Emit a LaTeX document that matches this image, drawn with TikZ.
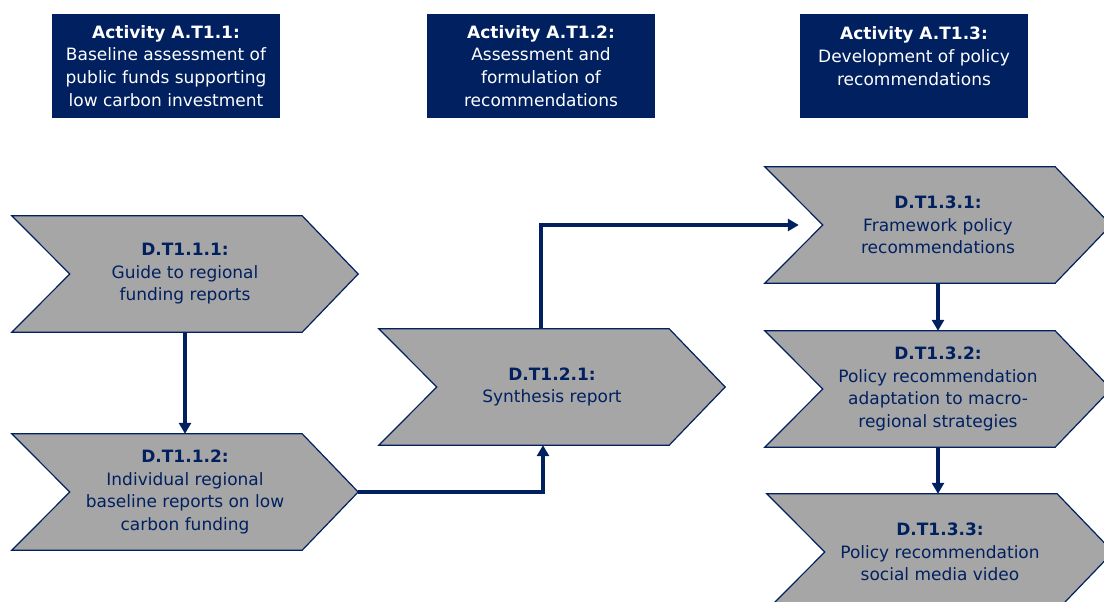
\documentclass[tikz,border=0pt]{standalone}
\usepackage{fontspec}
\setmainfont{DejaVu Sans}
\usetikzlibrary{arrows.meta, calc, positioning}
\pgfdeclarelayer{background}
\pgfsetlayers{background,main}
\definecolor{navy}{HTML}{002060}
\definecolor{chevgray}{HTML}{A6A6A6}

\begin{document}
\begin{tikzpicture}[x=1pt, y=-1pt,
    activity/.style={fill=navy, text=white, align=center, inner sep=0pt,
        minimum width=228pt, minimum height=104pt, font=\fontsize{17}{22.7}\selectfont},
    deliv/.style={align=center, text=navy, inner sep=0pt,
        minimum width=346pt, minimum height=116pt, font=\fontsize{17}{22.5}\selectfont},
    chevron/.style={draw=navy, fill=chevgray, line width=1.2pt},
    flow/.style={draw=navy, line width=3.2pt, -{Triangle[length=11pt, width=12pt]}}]
    \useasboundingbox (0,0) rectangle (1104,602);

    % Activities
    \node[activity] (a1) at (166,66) {\textbf{Activity A.T1.1:}\\Baseline assessment of\\public funds supporting\\low carbon investment};
    \node[activity] (a2) at (541,66) {\textbf{Activity A.T1.2:}\\Assessment and\\formulation of\\recommendations};
    \node[activity] (a3) at (914,66) {\textbf{Activity A.T1.3:}\\Development of policy\\recommendations\\[-3pt]\mbox{}};

    % Deliverables
    \node[deliv] (d111) at (185,274) {\textbf{D.T1.1.1:}\\Guide to regional\\funding reports};
    \node[deliv] (d112) at (185,492) {\textbf{D.T1.1.2:}\\Individual regional\\baseline reports on low\\carbon funding};
    \node[deliv] (d121) at (552,387) {\textbf{D.T1.2.1:}\\Synthesis report};
    \node[deliv] (d131) at (938,225) {\textbf{D.T1.3.1:}\\Framework policy\\recommendations};
    \node[deliv] (d132) at (938,389) {\textbf{D.T1.3.2:}\\Policy recommendation\\adaptation to macro-\\regional strategies};
    \node[deliv] (d133) at (940,552) {\textbf{D.T1.3.3:}\\Policy recommendation\\social media video};

    % Chevron outlines behind the text
    \begin{pgfonlayer}{background}
        \foreach \d in {d111,d112,d121,d131,d132,d133}
            \draw[chevron] (\d.north west) -- ([xshift=-56pt]\d.north east) -- (\d.east)
                -- ([xshift=-56pt]\d.south east) -- (\d.south west) -- ([xshift=58pt]\d.west) -- cycle;
    \end{pgfonlayer}

    % Flow
    \draw[flow] (d111.south) -- (d112.north);
    \draw[flow] (d112.east) -| ([xshift=-9pt]d121.south);
    \draw[flow] ([xshift=-11pt]d121.north) |- ([xshift=34pt]d131.west);
    \draw[flow] (d131.south) -- (d132.north);
    \draw[flow] (d132.south) -- (d132.south |- d133.north);
\end{tikzpicture}
\end{document}
